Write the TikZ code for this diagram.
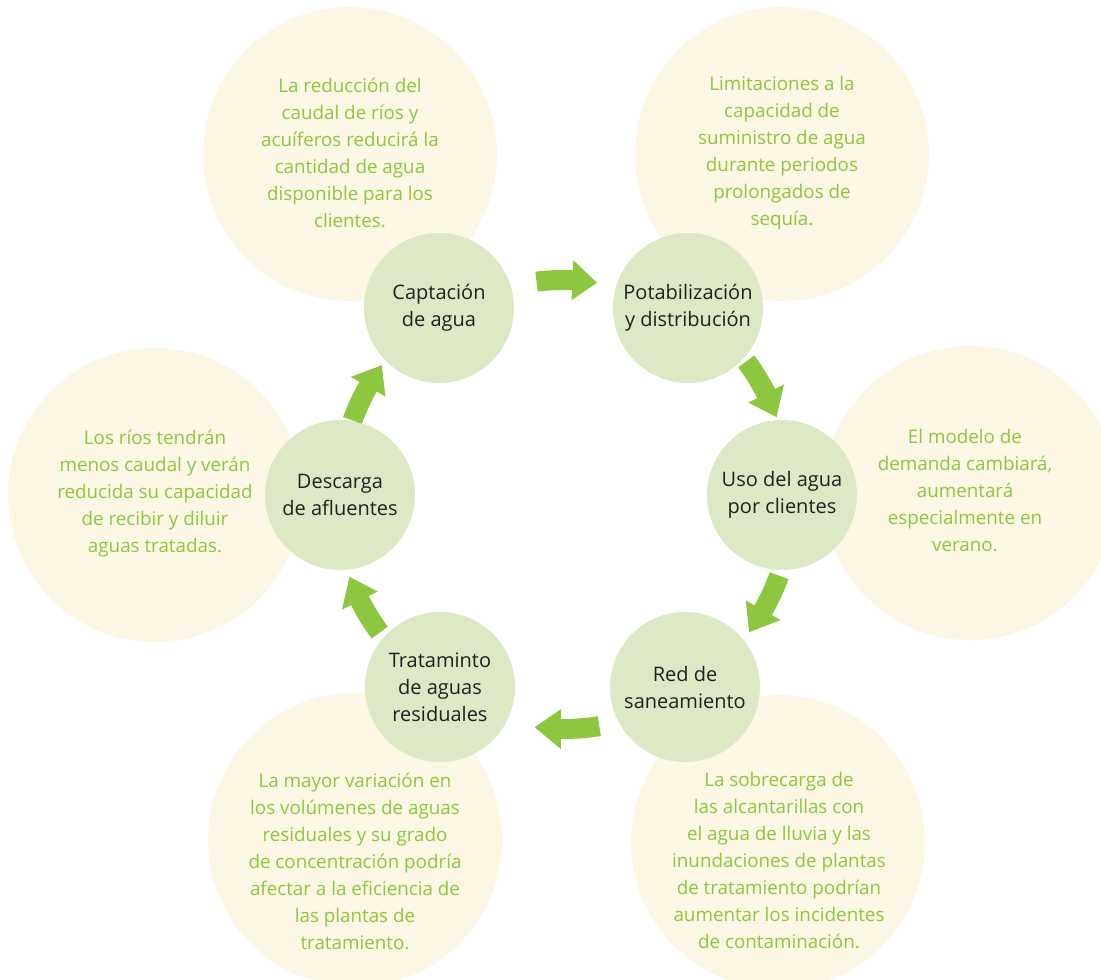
\documentclass[tikz,border=0pt]{standalone}
\usepackage{fontspec}
\setmainfont{Open Sans}
\usetikzlibrary{calc}
\definecolor{beige}{RGB}{252,246,228}
\definecolor{nodegreen}{RGB}{220,233,196}
\definecolor{textgreen}{RGB}{141,198,63}
\definecolor{arrowgreen}{RGB}{141,198,63}
\definecolor{darktext}{RGB}{35,31,32}
\tikzset{
  infocircle/.style={circle, fill=beige, minimum size=294pt, inner sep=0pt},
  infotext/.style={align=center, text=textgreen, font=\fontsize{18.8}{27}\selectfont, inner sep=0pt},
  stage/.style={circle, fill=nodegreen, minimum size=150pt, inner sep=0pt, align=center,
    text=darktext, font=\fontsize{20}{27}\selectfont},
}
% cyclearrow{name}{R}{mid angle}
\newcommand\cyclearrow[3]{%
  \pgfmathsetmacro\aA{#3-8}%
  \pgfmathsetmacro\aB{#3+1.5}%
  \pgfmathsetmacro\aC{#3+8}%
  \pgfmathsetmacro\rIn{#2-10}%
  \pgfmathsetmacro\rOut{#2+10}%
  \pgfmathsetmacro\hIn{#2-20}%
  \pgfmathsetmacro\hOut{#2+20}%
  \coordinate (#1-s) at ($(cyc)+(\aA:\rIn)$);
  \coordinate (#1-t) at ($(cyc)+(\aC:#2)$);
  \fill[arrowgreen] (#1-s) arc[start angle=\aA, end angle=\aB, radius=\rIn]
    -- ($(cyc)+(\aB:\hIn)$) -- (#1-t) -- ($(cyc)+(\aB:\hOut)$)
    -- ($(cyc)+(\aB:\rOut)$) arc[start angle=\aB, end angle=\aA, radius=\rOut] -- cycle;
}
\begin{document}
\begin{tikzpicture}[x=1pt,y=-1pt]
\useasboundingbox (0,0) rectangle (1101,980);
\coordinate (cyc) at (563,497);
% beige background circles
\node[infocircle] (c1) at (350,154) {};
\node[infocircle] (c2) at (782,154) {};
\node[infocircle] (c3) at (970,493) {};
\node[infocircle] (c4) at (778,842) {};
\node[infocircle] (c5) at (355,840) {};
\node[infocircle] (c6) at (155,495) {};
% beige texts
\node[infotext] (t1) at (350,153) {La reducción del\\caudal de ríos y\\acuíferos reducirá la\\cantidad de agua\\disponible para los\\clientes.};
\node[infotext] (t2) at (782,153) {Limitaciones a la\\capacidad de\\suministro de agua\\durante periodos\\prolongados de\\sequía.};
\node[infotext] (t3) at (965,490) {El modelo de\\demanda cambiará,\\aumentará\\especialmente en\\verano.};
\node[infotext] (t4) at (779,860) {La sobrecarga de\\las alcantarillas con\\el agua de lluvia y las\\inundaciones de plantas\\de tratamiento podrían\\aumentar los incidentes\\de contaminación.};
\node[infotext] (t5) at (355,861) {La mayor variación en\\los volúmenes de aguas\\residuales y su grado\\de concentración podría\\afectar a la eficiencia de\\las plantas de\\tratamiento.};
\node[infotext] (t6) at (155,494) {Los ríos tendrán\\menos caudal y verán\\reducida su capacidad\\de recibir y diluir\\aguas tratadas.};
% stages
\node[stage] (s1) at (439,308) {Captación\\de agua};
\node[stage] (s2) at (688,308) {Potabilización\\y distribución};
\node[stage] (s3) at (782,495) {Uso del agua\\por clientes};
\node[stage] (s4) at (685,687) {Red de\\saneamiento};
\node[stage] (s5) at (440,687) {Trataminto\\de aguas\\residuales};
\node[stage] (s6) at (340,495) {Descarga\\de afluentes};
% arrows
\cyclearrow{a1}{217}{-89}
\cyclearrow{a2}{228}{-28.5}
\cyclearrow{a3}{230}{28}
\cyclearrow{a4}{232}{89}
\cyclearrow{a5}{228}{151.5}
\cyclearrow{a6}{224}{208}
\end{tikzpicture}
\end{document}
